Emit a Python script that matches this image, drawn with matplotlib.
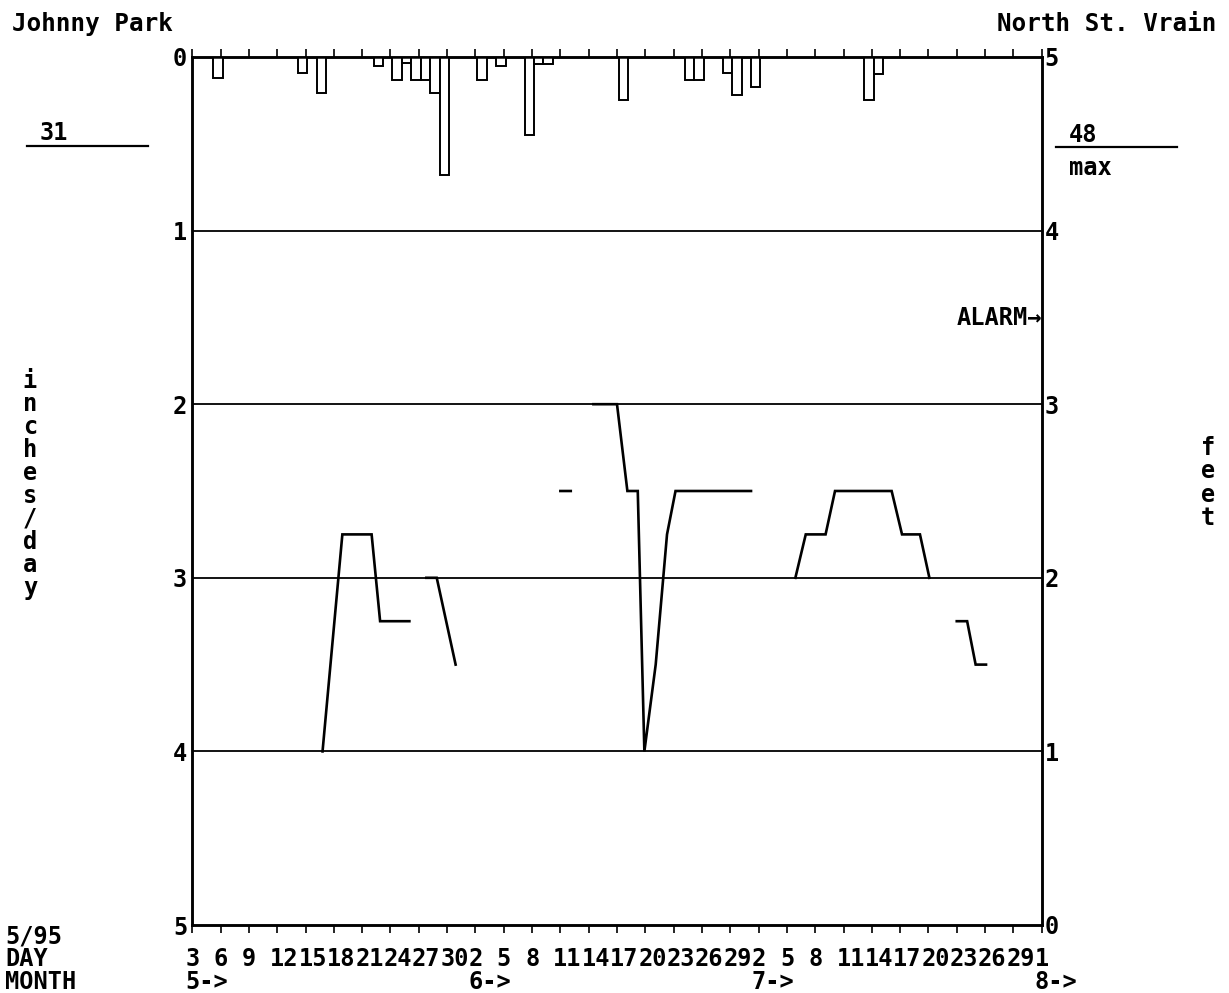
import numpy as np
import matplotlib
matplotlib.use("Agg")
import matplotlib.pyplot as plt
from matplotlib.lines import Line2D

plt.rcParams['font.family'] = ['DejaVu Sans Mono', 'DejaVu Sans']
plt.rcParams['font.weight'] = 'bold'

# ---------------- data ----------------
# x = days since May 3 (1995)
tick_days = list(range(0, 91, 3))
tick_labels = ["3", "6", "9", "12", "15", "18", "21", "24", "27", "30",
               "2", "5", "8", "11", "14", "17", "20", "23", "26", "29",
               "2", "5", "8", "11", "14", "17", "20", "23", "26", "29", "1"]
month_days = [0, 30, 60, 90]
month_labels = ["5->", "6->", "7->", "8->"]

# daily precipitation, Johnny Park (inches/day)
rain_day = [2, 11, 13, 19, 21, 22, 23, 24, 25, 26, 30, 32, 35, 36, 37,
            45, 52, 53, 56, 57, 59, 71, 72]
rain_in = [0.12, 0.09, 0.21, 0.05, 0.13, 0.035, 0.13, 0.13, 0.21, 0.68, 0.13,
           0.05, 0.45, 0.04, 0.04, 0.25, 0.13, 0.13, 0.09, 0.22, 0.17, 0.25, 0.10]

# stream stage, North St. Vrain (feet); None = gap in record
stage_day = [13.8, 15.9, 19.0, 19.9, 23.0, None,
             24.8, 25.9, 27.9, None,
             39.0, 40.1, None,
             42.5, 45.0, 46.1, 47.2, 47.9, 49.1, 50.3, 51.2, 59.2, None,
             63.9, 65.0, 67.1, 68.1, 74.1, 75.2, 77.1, 78.1, None,
             81.0, 82.1, 83.0, 84.1]
stage_ft = [1.0, 2.25, 2.25, 1.75, 1.75, None,
            2.0, 2.0, 1.5, None,
            2.5, 2.5, None,
            3.0, 3.0, 2.5, 2.5, 1.0, 1.5, 2.25, 2.5, 2.5, None,
            2.0, 2.25, 2.25, 2.5, 2.5, 2.25, 2.25, 2.0, None,
            1.75, 1.75, 1.5, 1.5]

left_ticks = [0, 1, 2, 3, 4, 5]
right_ticks = [0, 1, 2, 3, 4, 5]
alarm_ft = 3.5

# ---------------- figure ----------------
W, H = 1229, 993
fig = plt.figure(figsize=(W / 100, H / 100), dpi=100)
fig.patch.set_facecolor('white')

def fx(px):
    return px / W

def fy(py):
    return 1 - py / H

def pt(px):
    return px * 72 / 100

L, R, T, B = 192.3, 1041.7, 57, 925
ax = fig.add_axes([fx(L), fy(B), fx(R - L), (B - T) / H])
ax.set_xlim(0, 90)
ax.set_ylim(5, 0)

FS = 17
# grid lines
for v in [1, 2, 3, 4]:
    ax.axhline(v, color='black', lw=1.3, zorder=1)

# precipitation bars hanging from the top
ax.bar(np.array(rain_day) + 0.2, rain_in, width=1.0, align='edge',
       facecolor='white', edgecolor='black', lw=1.4, zorder=3)

ax.set_xticks(tick_days)
ax.tick_params(axis='x', which='both', direction='out', length=6, width=1.2,
               top=True, bottom=True, labelbottom=False, labeltop=False)
ax.set_yticks(left_ticks)
ax.set_yticklabels([str(t) for t in left_ticks], fontsize=FS, fontweight='bold')
ax.tick_params(axis='y', length=0, pad=pt(5))
for s in ax.spines.values():
    s.set_linewidth(1.8)

ax2 = ax.twinx()
ax2.set_ylim(0, 5)
ax2.set_yticks(right_ticks)
ax2.set_yticklabels([str(t) for t in right_ticks], fontsize=FS, fontweight='bold')
ax2.tick_params(axis='y', length=0, pad=pt(3))
for s in ax2.spines.values():
    s.set_linewidth(1.8)

sd = np.array([np.nan if v is None else v for v in stage_day], dtype=float)
sf = np.array([np.nan if v is None else v for v in stage_ft], dtype=float)
ax2.plot(sd, sf, color='black', lw=1.9, zorder=4, solid_joinstyle='miter')

# alarm marker
ax2.annotate("ALARM→", xy=(1.0, alarm_ft), xycoords=('axes fraction', 'data'),
             xytext=(0, -pt(8)), textcoords='offset points',
             ha='right', va='baseline', fontsize=FS, fontweight='bold')

# bottom day labels and month labels
for d, lab in zip(tick_days, tick_labels):
    ax.annotate(lab, xy=(d, 0), xycoords=('data', 'axes fraction'),
                xytext=(-pt(7), -pt(41)), textcoords='offset points',
                ha='left', va='baseline', fontsize=FS, fontweight='bold',
                annotation_clip=False)
for d, lab in zip(month_days, month_labels):
    ax.annotate(lab, xy=(d, 0), xycoords=('data', 'axes fraction'),
                xytext=(-pt(7), -pt(64)), textcoords='offset points',
                ha='left', va='baseline', fontsize=FS, fontweight='bold',
                annotation_clip=False)

# header texts
fig.text(fx(12), fy(31), "Johnny Park", ha='left', va='baseline', fontsize=17.5, fontweight='bold')
fig.text(fx(1216), fy(31), "North St. Vrain", ha='right', va='baseline', fontsize=17.5, fontweight='bold')

# left "31" with underline
fig.text(fx(40), fy(140), "31", ha='left', va='baseline', fontsize=FS, fontweight='bold')
fig.add_artist(Line2D([fx(27), fx(148)], [fy(146), fy(146)], color='black', lw=1.6))

# right "48 / max"
fig.text(fx(1069), fy(142), "48", ha='left', va='baseline', fontsize=FS, fontweight='bold')
fig.add_artist(Line2D([fx(1056), fx(1177)], [fy(147), fy(147)], color='black', lw=1.6))
fig.text(fx(1069), fy(175), "max", ha='left', va='baseline', fontsize=FS, fontweight='bold')

# bottom-left legend text
fig.text(fx(5), fy(944), "5/95", ha='left', va='baseline', fontsize=FS, fontweight='bold')
fig.text(fx(5), fy(966), "DAY", ha='left', va='baseline', fontsize=FS, fontweight='bold')
fig.text(fx(5), fy(989), "MONTH", ha='left', va='baseline', fontsize=FS, fontweight='bold')

# stacked axis labels
for k, ch in enumerate("inches/day"):
    fig.text(fx(30), fy(388 + 23 * k), ch, ha='center', va='baseline', fontsize=FS, fontweight='bold')
for k, ch in enumerate("feet"):
    fig.text(fx(1208), fy(455 + 23.3 * k), ch, ha='center', va='baseline', fontsize=FS, fontweight='bold')

fig.savefig("out.png", dpi=100, facecolor='white')
